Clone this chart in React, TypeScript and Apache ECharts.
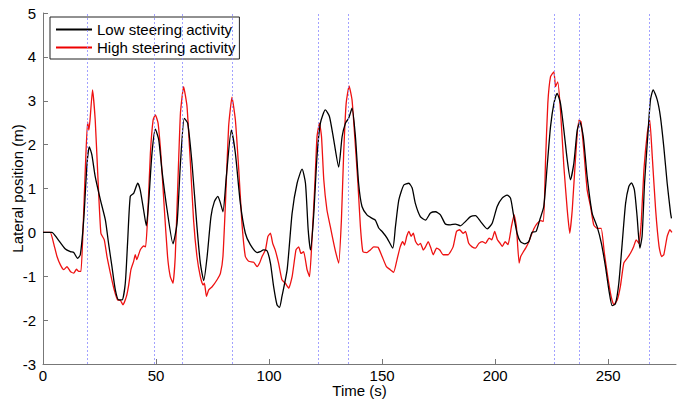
import React, { useEffect, useRef } from "react";
import * as echarts from "echarts";

const xTickLabels = [0, 50, 100, 150, 200, 250];
const yTickLabels = [-3, -2, -1, 0, 1, 2, 3, 4, 5];
const markerTimes = [19.7, 49.2, 61.8, 83.5, 121.9, 135.1, 226.1, 237, 268.1];

const lowSteering: [number, number][] = [
  [0, 0], [3.9, 0], [6.2, -0.13], [9.9, -0.38], [12.1, -0.44], [13.6, -0.46], [15.3, -0.59], [16.5, -0.51],
  [18, 0.28], [19.5, 1.58], [20.5, 1.95], [21.6, 1.77], [23.1, 1.27], [25.4, 0.74], [27.6, 0.28], [29, -0.25],
  [30.5, -0.78], [32, -1.31], [33.5, -1.54], [35, -1.54], [36.4, -1.16], [37.4, -0.25], [38.6, 0.82], [40.1, 0.89],
  [41.9, 1.12], [43, 0.97], [44.5, 0.51], [45.7, 0.15], [46.7, 0.66], [48.2, 1.8], [49.7, 2.35], [51.2, 2.11],
  [52.6, 1.42], [54.9, 0.51], [57.5, -0.26], [59.3, 0.21], [60.8, 1.58], [62.5, 2.6], [64, 2.49], [65.9, 1.58],
  [68.1, 0.13], [69.6, -0.7], [71.1, -1.1], [72.6, -0.55], [74.3, 0.36], [75.8, 0.7], [77.3, 0.82], [78.3, 0.7],
  [79.6, 0.47], [81.1, 1.27], [83.3, 2.33], [85.1, 1.8], [87.3, 0.66], [89.5, -0.02], [91.7, -0.28], [94.7, -0.46],
  [96.1, -0.44], [97.5, -0.4], [99.1, -0.42], [100.6, -0.7], [102, -1.23], [103.5, -1.65], [104.6, -1.71],
  [105.7, -1.46], [108, -0.85], [110.2, 0.44], [112.4, 1.12], [114.6, 1.44], [116.1, 1.12], [117.3, 0.06],
  [118.3, -0.4], [119.7, 0.36], [121.2, 1.73], [122.7, 2.49], [124.9, 2.79], [126.7, 2.64], [128.6, 2.11],
  [130.8, 1.49], [132.3, 2.18], [133.8, 2.49], [135.2, 2.6], [136.7, 2.83], [138.2, 2.18], [139.6, 1.12],
  [141.1, 0.59], [143.3, 0.4], [145.6, 0.32], [147, 0.28], [148.5, 0.1], [150, 0.02], [152.2, -0.13],
  [154.7, -0.36], [155.9, 0.13], [157.4, 0.74], [159.6, 1.08], [161.8, 1.12], [163.3, 1.01], [164.7, 0.66],
  [166.9, 0.36], [169.2, 0.28], [171.4, 0.44], [173.6, 0.47], [175.8, 0.4], [178, 0.19], [180.2, 0.17],
  [182.4, 0.19], [184.6, 0.15], [186.9, 0.25], [189.1, 0.36], [191.3, 0.38], [193.5, 0.25], [196.5, 0.08],
  [198.7, 0.21], [200.9, 0.59], [203.1, 0.78], [205.3, 0.85], [206.8, 0.78], [208, 0.44], [209.7, -0.02],
  [211.2, -0.21], [213.1, -0.26], [214.9, -0.21], [216.3, 0], [218.1, 0.02], [219.7, 0.28], [221.5, 0.59],
  [223, 1.5], [224.5, 2.41], [226, 2.94], [227.4, 3.17], [228.9, 2.94], [230.4, 2.33], [231.9, 1.65],
  [233.3, 1.2], [234.8, 1.57], [236.3, 2.33], [237.5, 2.52], [239, 2.18], [240.7, 1.27], [242.9, 0.44],
  [245.1, 0.13], [247, -0.25], [248.8, -0.78], [250.3, -1.31], [251.8, -1.67], [253.2, -1.63], [254.7, -1.16],
  [256.2, -0.25], [257.7, 0.66], [259.1, 1.04], [260.3, 1.13], [261.6, 0.97], [262.8, 0.36], [264, -0.36],
  [265, -0.09], [266.1, 1.13], [267.6, 2.26], [268.7, 3.02], [269.9, 3.25], [271.7, 3.02], [273.1, 2.64],
  [274.6, 1.95], [276.1, 1.12], [277.6, 0.44], [278, 0.32]
];

const highSteering: [number, number][] = [
  [0, 0], [3.2, 0], [4.7, -0.25], [6.2, -0.55], [7.7, -0.74], [9.2, -0.85], [10.6, -0.78], [12.1, -0.89],
  [13.6, -0.93], [14.8, -0.84], [15.8, -0.89], [16.8, -0.89], [17.7, 0.06], [18.7, 1.42], [19.7, 2.52],
  [20.3, 2.33], [20.8, 2.56], [21.9, 3.25], [23.1, 2.56], [24.2, 1.35], [25.6, -0.02], [27.1, -0.17],
  [28.3, -0.55], [29.8, -0.93], [31.5, -1.31], [33, -1.54], [34.2, -1.55], [35.4, -1.65], [36.9, -1.46],
  [37.9, -1.2], [38.9, -0.85], [40.1, -0.66], [40.8, -0.51], [41.5, -0.62], [43, -0.4], [44.5, -0.31],
  [45.4, -0.33], [46.3, 0.36], [47.5, 1.8], [48.7, 2.56], [49.7, 2.68], [50.9, 2.49], [52.2, 1.73], [53.7, 0.51],
  [55.1, -0.55], [56.3, -1.01], [57.5, -1.16], [58.5, -0.55], [59.6, 1.04], [60.8, 2.72], [62.2, 3.32],
  [63.7, 2.87], [65.2, 1.58], [66.6, 0.28], [68.1, -0.55], [69.6, -1.01], [70.8, -1.2], [71.4, -1.16],
  [72.3, -1.46], [73.3, -1.31], [74.8, -1.24], [77, -1.08], [78.5, -0.93], [79.6, -0.55], [80.7, 0.66],
  [82.1, 2.41], [83.6, 3.08], [85.1, 2.56], [86.6, 1.42], [88, 0.21], [89.5, -0.55], [91, -0.66], [93.2, -0.68],
  [94.7, -0.78], [95.8, -0.7], [96.9, -0.55], [98.4, -0.4], [99.5, -0.09], [100.6, -0.02], [101.6, -0.25],
  [102.7, -0.4], [104.2, -0.7], [105.7, -1.08], [107.2, -1.16], [108.7, -1.27], [110.2, -1.01], [111.9, -0.4],
  [113.1, -0.33], [114.1, -0.48], [115.3, -0.44], [116.8, -0.85], [117.9, -1.01], [118.9, -0.25], [120.2, 1.04],
  [121.2, 2.18], [122.3, 2.49], [123.2, 2.18], [124.2, 1.2], [125.6, 0.51], [127.1, 0.13], [128.6, -0.25],
  [129.6, -0.48], [130.8, -0.7], [132, 0.28], [133, 1.8], [134.1, 2.94], [135.4, 3.34], [136.7, 3.02],
  [137.9, 2.18], [139.3, 1.12], [140.4, 0.13], [141.5, -0.44], [143.3, -0.46], [144.8, -0.4], [146.3, -0.33],
  [148.2, -0.34], [150, -0.55], [151.9, -0.78], [153.6, -0.85], [155.1, -0.91], [156.6, -0.62], [158, -0.33],
  [159.1, -0.21], [159.9, -0.29], [160.9, -0.09], [161.9, 0.02], [162.8, -0.09], [163.8, -0.02], [164.8, -0.21],
  [166, -0.29], [167, -0.25], [168.2, -0.4], [169.2, -0.33], [170.4, -0.21], [171.6, -0.36], [172.6, -0.51],
  [174.1, -0.36], [175.5, -0.4], [177, -0.51], [179.2, -0.51], [181.4, -0.33], [182.9, 0.02], [184.3, 0.06],
  [185.8, -0.02], [186.9, 0.02], [188.3, -0.25], [189.8, -0.33], [191.3, -0.36], [192.8, -0.25], [194.3, -0.21],
  [195.8, -0.25], [197.3, -0.13], [198.5, -0.17], [199.8, 0.02], [201, -0.17], [202.2, -0.25], [203.2, -0.32],
  [204.4, -0.21], [205.7, -0.28], [207.2, 0.13], [208.4, 0.4], [209.4, 0.13], [210.6, -0.7], [211.3, -0.55],
  [212.5, -0.44], [213.5, -0.36], [214.6, -0.25], [216, -0.06], [217.2, 0.09], [218.7, 0.21], [220.2, 0.27],
  [221.4, 0.25], [222.3, 1.65], [223.3, 2.94], [224.5, 3.55], [226, 3.66], [226.7, 3.32], [227.7, 3.43],
  [228.9, 2.79], [230.4, 1.5], [231.9, 0.51], [233, -0.02], [234.1, 0.51], [235.5, 1.65], [237, 2.56],
  [238, 2.52], [239.2, 1.88], [240.7, 0.97], [242.2, 0.59], [243.6, 0.17], [245.1, 0.09], [246.9, 0.09],
  [248.3, -0.47], [249.8, -1.01], [251.3, -1.46], [252.5, -1.65], [254, -1.54], [255.4, -1.23], [256.9, -0.7],
  [258.4, -0.59], [259.9, -0.47], [261.3, -0.32], [262.4, -0.17], [263.6, -0.25], [264.6, 0.21], [265.8, 1.42],
  [267.3, 2.26], [268.4, 2.56], [269.5, 1.73], [271, 0.51], [272.5, -0.32], [273.6, -0.55], [274.6, -0.51],
  [276.1, -0.09], [277.3, 0.06], [278.2, 0]
];

const FONT = "'Liberation Sans', Arial, sans-serif";

export default function App() {
  const ref = useRef<HTMLDivElement>(null);
  useEffect(() => {
    if (!ref.current) return;
    const chart = echarts.init(ref.current, null, { renderer: "svg" });
    chart.setOption({
      animation: false,
      backgroundColor: "#fff",
      textStyle: { fontFamily: FONT },
      grid: { left: 43, right: 7, top: 13, bottom: 45, containLabel: false, outerBoundsMode: "none" },
      legend: {
        orient: "vertical",
        left: 50,
        top: 17,
        padding: [5, 4, 4, 6],
        itemGap: 3,
        itemWidth: 36,
        itemHeight: 2,
        icon: "rect",
        borderColor: "#222",
        borderWidth: 1,
        backgroundColor: "#fff",
        borderRadius: 0,
        textStyle: { fontSize: 15, color: "#000", fontFamily: FONT },
        data: ["Low steering activity", "High steering activity"],
      },
      xAxis: {
        type: "value",
        min: 0,
        max: 280,
        interval: 50,
        name: "Time (s)",
        nameLocation: "middle",
        nameGap: 19,
        nameMoveOverlap: false,
        nameTextStyle: { fontSize: 15, color: "#000", fontFamily: FONT },
        axisLine: { onZero: false, lineStyle: { color: "#777", width: 1 } },
        axisTick: { inside: true, length: 5, lineStyle: { color: "#777" }, customValues: xTickLabels },
        axisLabel: { fontSize: 15, color: "#000", margin: 4, customValues: xTickLabels, fontFamily: FONT },
        splitLine: { show: false },
      },
      yAxis: {
        type: "value",
        min: -3,
        max: 5,
        interval: 1,
        name: "Lateral position (m)",
        nameLocation: "middle",
        nameGap: 18,
        nameMoveOverlap: false,
        nameTextStyle: { fontSize: 15, color: "#000", fontFamily: FONT },
        axisLine: { show: true, onZero: false, lineStyle: { color: "#777", width: 1 } },
        axisTick: { show: true, inside: true, length: 5, lineStyle: { color: "#777" }, customValues: yTickLabels },
        axisLabel: { fontSize: 15, color: "#000", margin: 7, customValues: yTickLabels, fontFamily: FONT },
        splitLine: { show: false },
      },
      series: [
        {
          name: "Low steering activity",
          type: "line",
          data: lowSteering,
          showSymbol: false,
          smooth: 0.2,
          color: "#000",
          lineStyle: { color: "#000", width: 1.3 },
          z: 3,
          markLine: {
            silent: true,
            symbol: "none",
            label: { show: false },
            lineStyle: { color: "#8a8aff", type: [2, 2], width: 0.8 },
            data: markerTimes.map((t) => ({ xAxis: t })),
          },
        },
        {
          name: "High steering activity",
          type: "line",
          data: highSteering,
          showSymbol: false,
          smooth: 0.15,
          color: "#e00",
          lineStyle: { color: "#ee1111", width: 1.3 },
          z: 2,
        },
      ],
    });
    return () => chart.dispose();
  }, []);
  return <div ref={ref} style={{ width: 683, height: 409, position: "absolute", left: 0, top: 0 }} />;
}
